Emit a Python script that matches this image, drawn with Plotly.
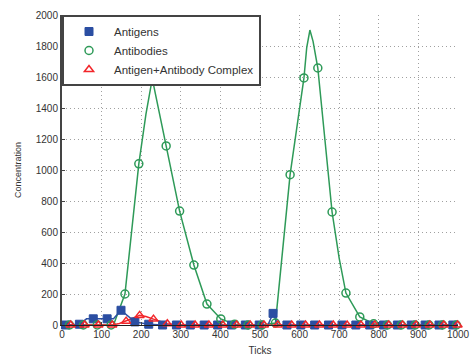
import plotly.graph_objects as go

# ---- data ----
# Antibodies (green) line and markers
ab_t = [0, 19, 54, 89, 124, 130, 159, 194, 212, 222, 228, 236, 248, 263, 297, 333, 366, 401, 436, 470, 505,
        539, 576, 611, 618, 626, 634, 646, 682, 700, 717, 752, 787, 822, 857, 892, 927, 961, 996, 1000]
ab_v = [0, 0, 0, 0, 0, 0, 200, 1040, 1360, 1520, 1590, 1490, 1340, 1155, 735, 387, 135, 39, 5, 0, 0,
        13, 970, 1594, 1790, 1903, 1830, 1658, 729, 430, 206, 52, 8, 0, 0, 0, 0, 0, 0, 0]
ab_mt = [19, 54, 89, 124, 159, 194, 228, 263, 297, 333, 366, 401, 436, 470, 505, 539, 576, 611, 646,
         682, 717, 752, 787, 822, 857, 892, 927, 961, 996]
ab_mv = [0, 0, 0, 0, 200, 1040, 1590, 1155, 735, 387, 135, 39, 5, 0, 0, 13, 970, 1594, 1658,
         729, 206, 52, 8, 0, 0, 0, 0, 0, 0]

# Antigens (blue)
ag_t = [0, 9, 44, 62, 79, 114, 130, 149, 184, 219, 254, 289, 324, 359, 393, 428, 463, 498, 520, 533, 545,
        568, 603, 638, 673, 707, 742, 777, 812, 847, 882, 917, 952, 987, 1000]
ag_v = [0, 0, 5, 40, 40, 40, 40, 95, 20, 5, 0, 0, 0, 0, 0, 0, 0, 0, 0, 75, 0,
        0, 0, 0, 0, 0, 0, 0, 0, 0, 0, 0, 0, 0, 0]
ag_mt = [9, 44, 79, 114, 149, 184, 219, 254, 289, 324, 359, 393, 428, 463, 498, 533, 568, 603, 638,
         673, 707, 742, 777, 812, 847, 882, 917, 952, 987]
ag_mv = [0, 5, 40, 40, 95, 20, 5, 0, 0, 0, 0, 0, 0, 0, 0, 75, 0, 0, 0,
         0, 0, 0, 0, 0, 0, 0, 0, 0, 0]

# Antigen+Antibody complex (red)
cx_t = [0, 22, 57, 92, 127, 145, 162, 180, 196, 212, 231, 266, 301, 336, 371, 406, 441, 475, 510, 545,
        580, 615, 650, 685, 720, 755, 790, 825, 860, 894, 929, 964, 999, 1000]
cx_v = [0, 0, 0, 0, 0, 10, 25, 45, 62, 55, 38, 8, 0, 0, 0, 0, 0, 0, 0, 0,
        0, 0, 0, 0, 0, 0, 0, 0, 0, 0, 0, 0, 0, 0]
cx_mt = [22, 57, 92, 127, 162, 196, 231, 266, 301, 336, 371, 406, 441, 475, 510, 545, 580, 615, 650,
         685, 720, 755, 790, 825, 860, 894, 929, 964, 999]
cx_mv = [0, 0, 0, 0, 25, 62, 38, 8, 0, 0, 0, 0, 0, 0, 0, 0, 0, 0, 0,
         0, 0, 0, 0, 0, 0, 0, 0, 0, 0]

x_ticks = list(range(0, 1001, 100))
y_ticks = list(range(0, 2001, 200))

BLUE = "#2b4ea2"
GREEN = "#2e9a58"
RED = "#f2262a"

fig = go.Figure()

# lines (no legend)
fig.add_trace(go.Scatter(x=ab_t, y=ab_v, mode="lines", line=dict(color=GREEN, width=1.5),
                         showlegend=False, hoverinfo="skip", cliponaxis=False))
fig.add_trace(go.Scatter(x=ag_t, y=ag_v, mode="lines", line=dict(color=BLUE, width=1.5),
                         showlegend=False, hoverinfo="skip", cliponaxis=False))
fig.add_trace(go.Scatter(x=cx_t, y=cx_v, mode="lines", line=dict(color=RED, width=1.5),
                         showlegend=False, hoverinfo="skip", cliponaxis=False))

# markers (legend entries)
fig.add_trace(go.Scatter(x=ag_mt, y=ag_mv, mode="markers", name="Antigens",
                         marker=dict(symbol="square", size=8, color=BLUE,
                                     line=dict(color=BLUE, width=1)), cliponaxis=False))
fig.add_trace(go.Scatter(x=ab_mt, y=ab_mv, mode="markers", name="Antibodies",
                         marker=dict(symbol="circle-open", size=8, color=GREEN,
                                     line=dict(color=GREEN, width=1.5)), cliponaxis=False))
fig.add_trace(go.Scatter(x=cx_mt, y=cx_mv, mode="markers", name="Antigen+Antibody Complex",
                         marker=dict(symbol="triangle-up-open", size=8, color=RED,
                                     line=dict(color=RED, width=1.5)), cliponaxis=False))

fig.update_layout(
    width=473, height=356,
    margin=dict(l=62, r=15, t=15, b=31, autoexpand=False),
    paper_bgcolor="white", plot_bgcolor="white",
    font=dict(family="Liberation Sans, Arial, sans-serif", size=10, color="#333333"),
    legend=dict(x=0, y=1, xanchor="left", yanchor="top", xref="paper", yref="paper",
                bgcolor="white", bordercolor="#444444", borderwidth=2,
                font=dict(size=11.5, color="#333333"), itemwidth=40,
                tracegroupgap=0),
    showlegend=True,
)
fig.update_xaxes(range=[0, 1000], tickvals=x_ticks, ticktext=[str(v) for v in x_ticks],
                 showgrid=True, gridcolor="#a0a0a0", griddash="1px,3px", gridwidth=1,
                 showline=True, linecolor="#222222", linewidth=1, mirror=False,
                 ticks="inside", ticklen=3, tickcolor="#444444",
                 zeroline=False, automargin=False,
                 title=dict(text="Ticks", font=dict(size=10, color="#333333"), standoff=8))
fig.update_yaxes(range=[0, 2000], tickvals=y_ticks, ticktext=[str(v) for v in y_ticks],
                 showgrid=True, gridcolor="#a0a0a0", griddash="1px,3px", gridwidth=1,
                 showline=True, linecolor="#444444", linewidth=2, mirror=False,
                 ticks="inside", ticklen=3, tickcolor="#444444",
                 zeroline=False, automargin=False,
                 title=dict(text="Concentration", font=dict(size=9, color="#333333"), standoff=13))

fig.write_html("out.html", config={"displayModeBar": False},
               post_script="document.body.style.margin='0';document.body.style.padding='0';")
